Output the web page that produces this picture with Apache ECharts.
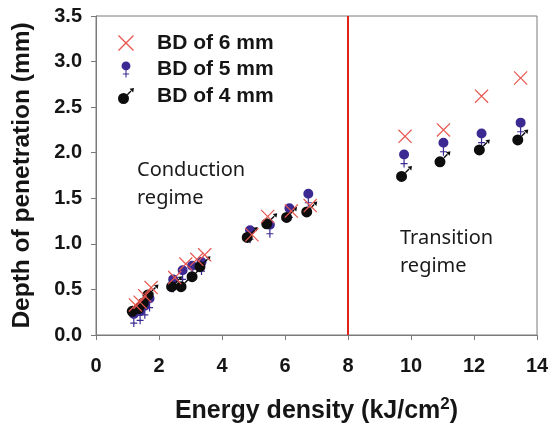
<!DOCTYPE html>
<html>
<head>
<meta charset="utf-8">
<script src="https://cdn.jsdelivr.net/npm/echarts@6/dist/echarts.min.js"></script>
<style>
  html, body { margin: 0; padding: 0; background: #fff; }
  #main { width: 552px; height: 432px; }
</style>
</head>
<body>
<div id="main"></div>
<script>
// energy density (kJ/cm2) and depth of penetration (mm)
const bd6X = [1.25, 1.4, 1.55, 1.75, 2.5, 2.85, 3.2, 3.45, 4.95, 5.45, 6.2, 6.8, 9.81, 11.03, 12.24, 13.48];
const bd6Y = [0.33, 0.36, 0.43, 0.52, 0.63, 0.78, 0.83, 0.88, 1.10, 1.30, 1.36, 1.42, 2.18, 2.25, 2.62, 2.82];

const bd5X = [1.2, 1.4, 1.55, 1.7, 2.45, 2.75, 3.05, 3.35, 4.89, 5.52, 6.14, 6.74, 9.78, 11.03, 12.24, 13.48];
const bd5Y = [0.23, 0.26, 0.32, 0.40, 0.61, 0.71, 0.76, 0.80, 1.15, 1.21, 1.39, 1.55, 1.98, 2.11, 2.21, 2.33];

const bd4X = [1.15, 1.35, 1.5, 1.65, 2.4, 2.7, 3.05, 3.3, 4.80, 5.42, 6.05, 6.69, 9.70, 10.92, 12.17, 13.39];
const bd4Y = [0.26, 0.29, 0.35, 0.44, 0.53, 0.53, 0.64, 0.75, 1.07, 1.22, 1.29, 1.35, 1.74, 1.90, 2.03, 2.14];

const seriesNames = ['BD of 6 mm', 'BD of 5 mm', 'BD of 4 mm'];
const regimeBoundary = 8;

const zip = (xs, ys) => xs.map((x, i) => [x, ys[i]]);

// symbols
const crossPath = 'path://M0,0.85 L0.85,0 L7,6.15 L13.15,0 L14,0.85 L7.85,7 L14,13.15 L13.15,14 L7,7.85 L0.85,14 L0,13.15 L6.15,7 Z';
const femalePath = 'path://M0,5 A5,5 0 1,1 10,5 A5,5 0 1,1 0,5 Z M4.4,10 L5.6,10 L5.6,18 L4.4,18 Z M1.5,13.5 L4.4,13.5 L4.4,14.6 L1.5,14.6 Z M5.6,13.5 L8.5,13.5 L8.5,14.6 L5.6,14.6 Z';
const malePath = 'path://M0,10.5 A5.5,5.5 0 1,1 11,10.5 A5.5,5.5 0 1,1 0,10.5 Z M9,6 L10,7 L13.5,3.5 L12.5,2.5 Z M16,0 L11.5,0.8 L15.2,4.5 Z';

const axisGray = '#7a7a7a';
const boldFont = 'Liberation Sans';

const myChart = echarts.init(document.getElementById('main'));

const option = {
  backgroundColor: '#fff',
  animation: false,
  grid: {
    left: 96,
    right: 15,
    top: 16,
    bottom: 97,
    show: true,
    borderColor: axisGray,
    borderWidth: 1
  },
  legend: {
    orient: 'vertical',
    left: 113,
    top: 27,
    itemWidth: 16,
    itemHeight: 16,
    itemGap: 4.5,
    textStyle: {
      fontFamily: boldFont,
      fontWeight: 'bold',
      fontSize: 21,
      lineHeight: 22,
      color: '#151515',
      padding: [0, 0, 0, 18]
    },
    data: [
      { name: seriesNames[0], icon: crossPath },
      { name: seriesNames[1], icon: femalePath },
      { name: seriesNames[2], icon: malePath }
    ]
  },
  xAxis: {
    type: 'value',
    min: 0,
    max: 14,
    interval: 2,
    name: 'Energy density (kJ/cm{sup|2})',
    nameLocation: 'middle',
    nameGap: 61,
    nameTextStyle: {
      fontFamily: boldFont,
      fontWeight: 'bold',
      fontSize: 25,
      color: '#151515',
      rich: {
        sup: {
          fontFamily: boldFont,
          fontWeight: 'bold',
          fontSize: 17,
          color: '#151515',
          padding: [0, 0, 14, 0]
        }
      }
    },
    axisLine: { lineStyle: { color: axisGray, width: 1 } },
    axisTick: { show: true, inside: false, length: 5, lineStyle: { color: axisGray } },
    axisLabel: {
      margin: 21,
      fontFamily: boldFont,
      fontWeight: 'bold',
      fontSize: 20,
      color: '#151515'
    },
    splitLine: { show: false }
  },
  yAxis: {
    type: 'value',
    min: 0,
    max: 3.5,
    interval: 0.5,
    name: 'Depth of penetration (mm)',
    nameLocation: 'middle',
    nameGap: 61,
    nameTextStyle: {
      fontFamily: boldFont,
      fontWeight: 'bold',
      fontSize: 24.5,
      color: '#151515'
    },
    axisLine: { lineStyle: { color: axisGray, width: 1 } },
    axisTick: { show: true, inside: false, length: 5, lineStyle: { color: axisGray } },
    axisLabel: {
      margin: 14,
      fontFamily: boldFont,
      fontWeight: 'bold',
      fontSize: 20,
      color: '#151515',
      formatter: v => v.toFixed(1)
    },
    splitLine: { show: false }
  },
  series: [
    {
      name: seriesNames[0],
      type: 'scatter',
      z: 4,
      symbol: crossPath,
      symbolSize: 14,
      itemStyle: { color: '#e8564f', opacity: 1 },
      data: zip(bd6X, bd6Y),
      markLine: {
        silent: true,
        symbol: 'none',
        label: { show: false },
        lineStyle: { color: '#e2231a', width: 2, type: 'solid' },
        data: [{ xAxis: regimeBoundary }]
      }
    },
    {
      name: seriesNames[1],
      type: 'scatter',
      z: 2,
      symbol: femalePath,
      symbolSize: [10, 18],
      symbolOffset: [0, 4],
      itemStyle: { color: '#3c2a92', opacity: 1 },
      data: zip(bd5X, bd5Y)
    },
    {
      name: seriesNames[2],
      type: 'scatter',
      z: 3,
      symbol: malePath,
      symbolSize: [16, 16],
      symbolOffset: [2.5, -2.5],
      itemStyle: { color: '#0d0d0d', opacity: 1 },
      data: zip(bd4X, bd4Y)
    }
  ],
  graphic: [
    {
      type: 'text',
      left: 137,
      top: 156,
      style: {
        text: 'Conduction\nregime',
        fontFamily: 'Noto Sans',
        fontSize: 20,
        lineHeight: 28,
        fill: '#1a1a1a'
      }
    },
    {
      type: 'text',
      left: 400,
      top: 224,
      style: {
        text: 'Transition\nregime',
        fontFamily: 'Noto Sans',
        fontSize: 20,
        lineHeight: 28,
        fill: '#1a1a1a'
      }
    }
  ]
};

myChart.setOption(option);
</script>
</body>
</html>
